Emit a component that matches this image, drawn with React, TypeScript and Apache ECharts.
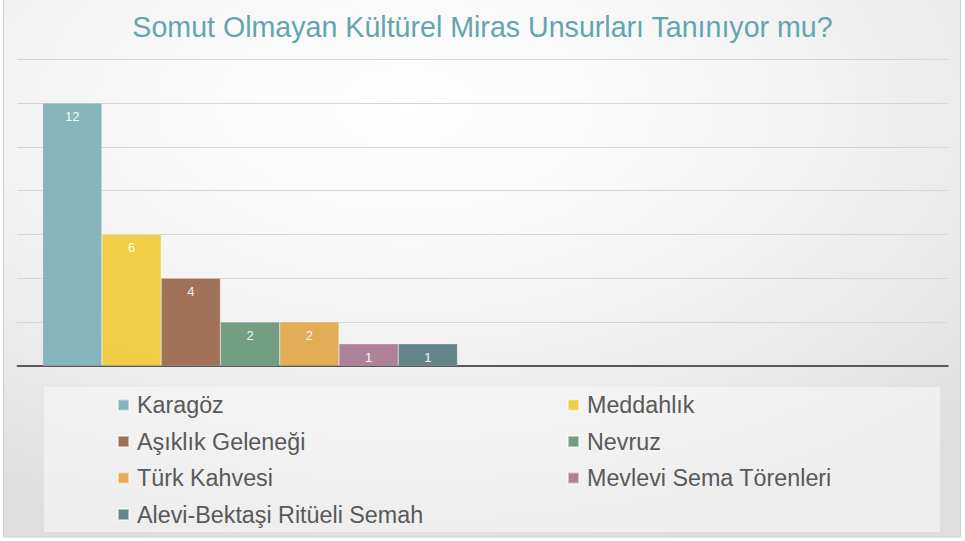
import React, { useEffect, useRef } from "react";
import * as echarts from "echarts";

const titleText = "Somut Olmayan Kültürel Miras Unsurları Tanınıyor mu?";
const categories = ["1", "2"];
const seriesNames = [
  "Karagöz",
  "Meddahlık",
  "Aşıklık Geleneği",
  "Nevruz",
  "Türk Kahvesi",
  "Mevlevi Sema Törenleri",
  "Alevi-Bektaşi Ritüeli Semah",
];
const seriesValues = [12, 6, 4, 2, 2, 1, 1];
const seriesColors = ["#7fb1b9", "#f0cb3c", "#9c6a50", "#6a997a", "#e0a94c", "#ab7b93", "#5d7f83"];
const legendLeftColumn = ["Karagöz", "Aşıklık Geleneği", "Türk Kahvesi", "Alevi-Bektaşi Ritüeli Semah"];
const legendRightColumn = ["Meddahlık", "Nevruz", "Mevlevi Sema Törenleri"];

const FONT = "'Liberation Sans', Arial, sans-serif";

export default function App() {
  const ref = useRef<HTMLDivElement>(null);
  useEffect(() => {
    document.body.style.margin = "0";
    const chart = echarts.init(ref.current!, undefined, { renderer: "svg" });
    const legendText = { fontFamily: FONT, fontSize: 23.3, color: "#595959", lineHeight: 25, padding: [0, 0, 0, 3] };
    const legendBase = {
      orient: "vertical",
      top: 392.5,
      padding: 0,
      icon: "rect",
      itemWidth: 11,
      itemHeight: 11,
      itemGap: 11.5,
      textStyle: legendText,
      selectedMode: false,
    };
    chart.setOption({
      animation: false,
      backgroundColor: "#ffffff",
      graphic: [
        {
          type: "rect",
          z: -10,
          shape: { x: 3.5, y: -2, width: 957, height: 539 },
          style: {
            fill: new echarts.graphic.RadialGradient(0.42, 0.2, 0.85, [
              { offset: 0, color: "#ffffff" },
              { offset: 0.5, color: "#f3f3f3" },
              { offset: 1, color: "#dedede" },
            ]),
            stroke: "#cfcfcf",
            lineWidth: 1,
          },
          silent: true,
        },
        {
          type: "rect",
          z: -5,
          shape: { x: 44, y: 387, width: 896, height: 145 },
          style: { fill: "rgba(250,250,250,0.55)" },
          silent: true,
        },
      ],
      title: {
        text: titleText,
        left: "center",
        top: 7,
        textStyle: { fontFamily: FONT, fontSize: 28.6, fontWeight: "normal", color: "#64a5ad" },
      },
      legend: [
        { ...legendBase, data: legendLeftColumn, left: 117 },
        { ...legendBase, data: legendRightColumn, left: 567 },
      ],
      grid: { left: 17.5, right: 17.3, top: 59.3, bottom: 175.3, containLabel: false },
      xAxis: {
        type: "category",
        data: categories,
        axisLabel: { show: false },
        axisTick: { show: false },
        axisLine: { show: true, lineStyle: { color: "#595959", width: 2 } },
      },
      yAxis: {
        type: "value",
        min: 0,
        max: 14,
        interval: 2,
        axisLabel: { show: false },
        axisLine: { show: false },
        axisTick: { show: false },
        splitLine: { lineStyle: { color: "#d6d6d6", width: 1 } },
      },
      series: seriesNames.map((name, i) => ({
        name,
        type: "bar",
        data: [seriesValues[i], "-"],
        barGap: "0%",
        barCategoryGap: "10.8%",
        itemStyle: { color: seriesColors[i], opacity: 0.95, borderColor: "rgba(255,255,255,0.5)", borderWidth: 0.5 },
        label: {
          show: true,
          position: "insideTop",
          distance: 7,
          color: "#ffffff",
          fontFamily: FONT,
          fontSize: 13,
        },
      })),
    });
    return () => chart.dispose();
  }, []);
  return <div ref={ref} style={{ width: 965, height: 541 }} />;
}
